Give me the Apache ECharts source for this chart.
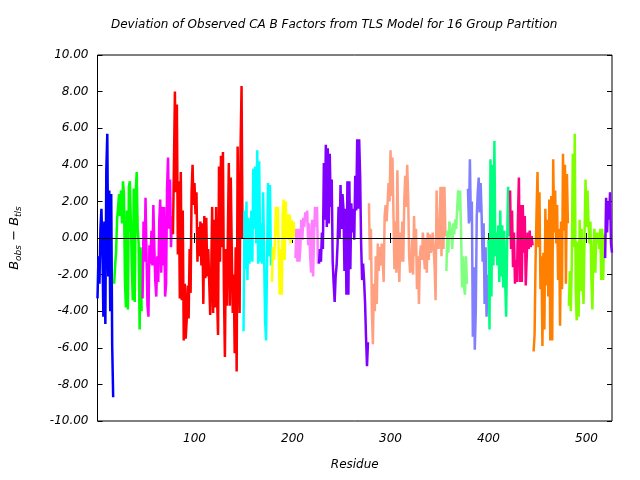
<!DOCTYPE html>
<html>
<head>
<meta charset="utf-8">
<title>TLS deviation</title>
<script src="https://cdn.jsdelivr.net/npm/echarts@6/dist/echarts.min.js"></script>
<style>
  html, body { margin: 0; padding: 0; background: #fff; }
  #chart { width: 640px; height: 480px; }
</style>
</head>
<body>
<div id="chart"></div>
<script>
// tick labels
const xTicks = [100, 200, 300, 400, 500]
const xRange = [1, 526]
const yRange = [-10, 10]

// one array per TLS group, starting residue in groupStarts
const blue = [-3.3, -1.0, -2.5, 0.5, 1.6, -0.5, -4.3, 0.9, -4.7, 3.7, 5.7, -2.1, 2.6, -4.0, 2.4, -5.9, -8.7]
const green = [-2.5, -1.5, -0.7, 1.0, 1.1, 2.4, 1.2, 2.6, 0.8, 3.1, 2.4, -2.3, -3.8, 1.5, -3.9, 2.8, 3.1, 1.0, -1.4, -3.4,
  2.7, -3.5, 2.5, 3.6, 0.5, -0.3, -5.0, -0.5, -4.0]
const magenta = [-3.3, 0.9, -1.3, 2.2, -0.9, -3.7, -4.3, -0.4, -1.4, 0.4, -1.5, 1.8, -0.5, -2.4, -3.2, -1.0, -2.4, 0.9, 2.1, -1.9,
  1.7, -1.5, 1.7, -3.2, -2.5, 2.8, 4.4, 0.5, 3.2, -0.5, 1.2]
const red = [0.2, 4.0, 8.0, 2.5, 7.3, -0.9, 3.1, -3.3, 3.6, -3.4, 1.5, -5.6, -2.5, -5.5, -4.5, -2.6, -4.4, -0.6, -3.0, 2.5,
  4.0, 1.8, 3.0, 1.3, 2.5, -1.3, 0.6, -1.0, 0.9, -1.5, 0.8, -3.6, 1.2, -2.2, 1.1, -2.1, -0.6, -2.4, -4.2, -2.1,
  1.7, -4.1, 1.0, -3.8, 1.7, -3.2, -5.3, 3.9, -1.3, 4.5, -0.5, 4.7, -2.8, -6.5, -0.6, -3.7, 0.0, 4.1, -3.7, 3.3,
  -0.6, -4.1, -2.0, -6.3, -0.5, -7.3, 5.0, -0.3, -4.1, 5.0, 8.3, 0.0]
const cyan = [-5.1, 1.5, -1.7, 2.0, -2.3, 1.1, -1.4, -0.6, 1.5, -1.3, 3.8, 0.5, 3.9, -0.3, 4.8, -1.4, 4.2, -1.3, 0.8, -1.4,
  2.5, -0.8, -4.5, -5.6, -1.4, 3.0, -1.0, 2.9, -1.5]
const yellow = [-2.4, -0.5, -1.2, -0.3, 1.7, 0.1, 1.7, -1.1, -3.1, -0.6, -3.1, 1.4, 2.1, -1.2, 2.0, 0.0, 1.3, -0.1, 1.3, -0.3,
  1.0, -0.1, 0.9, 0.1]
const pink = [-1.1, 0.5, -1.3, 0.5, -1.3, -0.5, 1.0, -0.1, 1.1, 0.6, 1.4, 0.9, 1.5, -0.4, 0.8, -1.0, -1.9, 1.0, -2.1, 0.2,
  1.7, 0.6, 1.7, -1.4]
const purple = [-1.4, -0.6, -1.3, 0.3, -0.6, 4.1, 1.0, 5.1, 0.6, 4.9, 0.8, 4.6, 1.7, 3.2, -1.3, -2.5, -3.5, -2.1, -1.5, -0.3,
  1.7, 0.0, 2.9, 0.5, 2.4, 1.6, -1.8, 1.6, -3.1, 3.1, -3.1, 3.1, -1.7, 1.9, 0.3, 1.6, -0.1, 3.4, 1.5, 5.4,
  1.6, 5.4, 3.4, -0.3, -2.3, -1.4, -2.3, -3.5, -5.4, -7.0, -5.7]
const salmon = [1.9, -1.2, 0.5, -4.1, -5.8, -2.5, -4.0, -1.0, -3.6, -0.3, -1.8, -0.5, -1.5, -0.3, -1.2, -2.4, 1.2, 1.8, 0.9, 1.9,
  3.0, 2.0, 4.8, 2.3, 4.4, 1.3, -1.7, 0.9, -1.9, 3.7, -0.3, -2.4, 0.3, -1.3, 0.9, -1.3, 2.0, 3.4, 1.7, 4.0,
  2.3, -1.0, -1.9, -1.6, 0.0, -2.0, 1.2, -1.0, 0.5, -2.8, -1.0, -3.6, -1.0, -0.4, -1.2, 0.3, -0.8, -1.7, 0.0, -1.9,
  0.3, -1.2, 0.2, -0.8, -0.6, 0.3, -0.5, -1.6, -3.4, 2.6, 0.5, -0.6, 0.0, 2.8, -1.0, 2.8, -0.6, 2.8, 0.1]
const lightGreen = [-1.8, 0.4, -0.8, 0.9, 1.0, 0.3, -0.6, 0.8, 0.2, 1.0, 0.5, 1.6, 2.6, 1.5, 2.6, 0.3, -2.7, -1.0, -2.7, -3.1,
  -1.0, -2.5]
const slate = [2.7, 0.8, 4.3, 0.9, 2.0, -5.4, -1.6, -6.1, -4.0, 1.2, 2.5, 3.3, 1.4, 3.0, 1.2, -1.3, 0.8, -3.6, -0.5, -4.3, -2.0]
const spring = [-0.1, -5.0, 4.3, -3.2, 4.0, -1.5, 5.3, -1.0, 0.3, -1.5, 0.7, -2.4, 1.5, -2.1, 0.7, -2.7, 0.4, -2.4, -4.3, -0.3,
  2.8, 0.1]
const deepPink = [2.6, -0.6, 1.5, -1.6, 0.3, -2.5, -1.2, -2.4, 1.0, 3.3, -2.4, 1.8, -2.4, 1.8, -0.8, 1.2, -2.6, -1.0, 0.3, -0.6,
  0.4, -0.5, 0.1, -0.4]
const orange = [-6.2, -5.3, -1.3, 1.4, 3.6, -0.5, 2.5, -2.8, -1.0, -5.9, -0.8, -5.0, 1.6, -2.6, 1.0, -3.2, 2.1, -5.6, 2.3, -5.6,
  4.3, 0.3, 2.6, -0.3, 1.8, -2.3, 0.5, -4.8, 0.9, -2.8, 4.6, 0.4, 4.0, -2.5, 3.5, 0.8]
const lawnGreen = [-3.7, -1.8, -4.0, -1.3, 4.6, -0.5, 5.7, -2.8, -4.5, -0.2, -4.3, 1.0, -2.9, 0.5, -2.6, -3.6, 0.3, 3.2, 0.6, 2.6,
  0.9, -0.3, 0.9, -2.3, -3.9, -0.5, 0.5, -1.9, 0.3, -0.3, 0.3, -0.6, 0.5, -2.3, 0.5, -2.3, 0.2]
const violet = [-1.1, 2.2, 0.3, 2.0, 1.0, 2.5, -0.3, -0.8]

const groupValues = [blue, green, magenta, red, cyan, yellow, pink, purple,
  salmon, lightGreen, slate, spring, deepPink, orange, lawnGreen, violet]
const groupStarts = [1, 18, 47, 78, 150, 179, 203, 227, 278, 357, 379, 400, 422, 446, 482, 519]
const groupColors = ['#0000ff', '#00ff00', '#ff00ff', '#ff0000', '#00ffff', '#ffff00', '#ff80ff', '#8000ff',
  '#ffa080', '#80ff80', '#8080ff', '#00ff80', '#ff0080', '#ff8000', '#80ff00', '#8000ff']

const font = 'DejaVu Sans'
const chart = echarts.init(document.getElementById('chart'))

const series = groupValues.map((values, k) => {
  return {
    type: 'line',
    step: 'end',
    data: values.map((v, i) => [groupStarts[k] + i, v]),
    showSymbol: false,
    symbol: 'none',
    silent: true,
    animation: false,
    lineStyle: { color: groupColors[k], width: 2.5 },
    itemStyle: { color: groupColors[k] }
  }
})
// zero reference line
series[0].markLine = {
  silent: true,
  symbol: 'none',
  label: { show: false },
  lineStyle: { color: '#000', width: 1, type: 'solid' },
  data: [{ yAxis: 0 }]
}

const tickStyle = { inside: true, length: 5, lineStyle: { color: '#000', width: 1 } }
const labelStyle = { color: '#000', fontFamily: font, fontStyle: 'italic', fontSize: 12 }

chart.setOption({
  animation: false,
  title: {
    text: 'Deviation of Observed CA B Factors from TLS Model for 16 Group Partition',
    left: 111,
    top: 19,
    padding: 0,
    textStyle: { fontFamily: font, fontStyle: 'italic', fontWeight: 'normal', fontSize: 12, color: '#000' }
  },
  grid: {
    left: 94,
    right: 28,
    top: 55,
    bottom: 59,
    show: true,
    borderColor: '#000',
    borderWidth: 1
  },
  xAxis: [
    {
      type: 'value',
      min: xRange[0],
      max: xRange[1],
      position: 'bottom',
      axisLine: { show: false },
      axisTick: Object.assign({ customValues: xTicks }, tickStyle),
      axisLabel: Object.assign({ customValues: xTicks, margin: 12 }, labelStyle),
      splitLine: { show: false },
      name: 'Residue',
      nameLocation: 'middle',
      nameGap: 38,
      nameTextStyle: labelStyle
    },
    {
      type: 'value',
      min: xRange[0],
      max: xRange[1],
      position: 'top',
      axisLine: { show: false },
      axisTick: Object.assign({ customValues: xTicks }, tickStyle),
      axisLabel: { show: false },
      splitLine: { show: false }
    }
  ],
  yAxis: [
    {
      type: 'value',
      min: yRange[0],
      max: yRange[1],
      interval: 2,
      position: 'left',
      axisLine: { show: false },
      axisTick: tickStyle,
      axisLabel: Object.assign({ margin: 9, formatter: v => v.toFixed(2) }, labelStyle),
      splitLine: { show: false },
      name: '{b|B}{s|obs}{b| \u2212 B}{s|tls}',
      nameLocation: 'middle',
      nameRotate: 90,
      nameGap: 74,
      nameTextStyle: {
        rich: {
          b: { fontFamily: font, fontStyle: 'italic', fontSize: 13, color: '#000', lineHeight: 18 },
          s: { fontFamily: font, fontStyle: 'italic', fontSize: 9, color: '#000', verticalAlign: 'bottom', lineHeight: 18 }
        }
      }
    },
    {
      type: 'value',
      min: yRange[0],
      max: yRange[1],
      interval: 2,
      position: 'right',
      axisLine: { show: false },
      axisTick: tickStyle,
      axisLabel: { show: false },
      splitLine: { show: false }
    }
  ],
  series: series
})
</script>
</body>
</html>
